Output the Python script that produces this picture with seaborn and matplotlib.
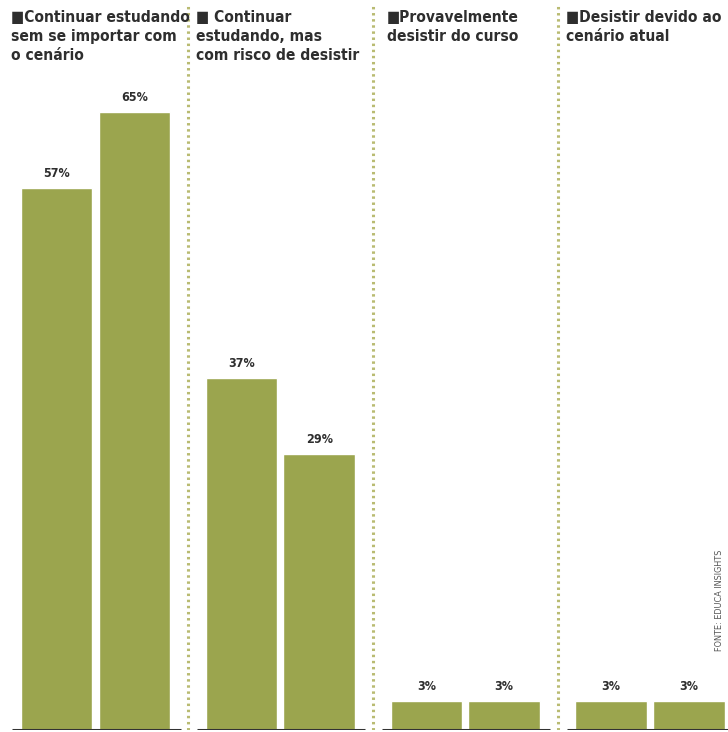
import numpy as np
import pandas as pd
import matplotlib
matplotlib.use("Agg")
from matplotlib import pyplot as plt
import seaborn as sns

# data
categories = [
    "Continuar estudando\nsem se importar com\no cenário",
    " Continuar\nestudando, mas\ncom risco de desistir",
    "Provavelmente\ndesistir do curso",
    "Desistir devido ao\ncenário atual",
]
series_names = ["A", "B"]
values_a = [57, 37, 3, 3]
values_b = [65, 29, 3, 3]
source_text = "FONTE: EDUCA INSIGHTS"

bar_color = "#9ba54e"
sep_color = "#b9bb72"
text_color = "#2e2e2e"

sns.set_theme(style="white")
plt.rcParams['font.family'] = ['DejaVu Sans']

df = pd.DataFrame({
    "Categoria": categories * 2,
    "Serie": [series_names[0]] * 4 + [series_names[1]] * 4,
    "Valor": values_a + values_b,
})

fig = plt.figure(figsize=(7.28, 7.32), dpi=100)
ax = fig.add_axes([0, 2 / 732, 1, 730 / 732])

sns.barplot(
    data=df, x="Categoria", y="Valor", hue="Serie",
    palette=[bar_color, bar_color], width=0.84, gap=0.08,
    legend=False, ax=ax, saturation=1,
)

for cont in ax.containers:
    ax.bar_label(cont, labels=[f"{v:.0f}%" for v in cont.datavalues],
                 padding=6, fontsize=9, fontweight="bold", color=text_color,
                 fontstretch="condensed")

ax.set_xlim(-0.517, 3.422)
ax.set_ylim(0, 76.8)
ax.set_axis_off()

# dotted separators between groups
for xs in [0.5, 1.5, 2.5]:
    ax.axvline(xs, ymin=0, ymax=0.995, color=sep_color, lw=2.2,
               linestyle=(0, (0.8, 1.2)))

# dark baseline under each group
for g in range(len(categories)):
    ax.hlines(0, g - 0.45, g + 0.46, color="#333333", lw=2.2)

# group headers
for g, cat in enumerate(categories):
    ax.text(g - 0.455 + (0.03 if g == 2 else 0), 75.8, "■" + cat,
            ha="left", va="top",
            fontsize=11.2, fontweight="bold", color=text_color,
            linespacing=1.35, fontstretch="condensed")

fig.text(0.988, 0.18, source_text, rotation=90, ha="center", va="center",
         fontsize=6.5, color="#555555", fontstretch="condensed")

fig.savefig("out.png", dpi=100)
plt.close("all")
